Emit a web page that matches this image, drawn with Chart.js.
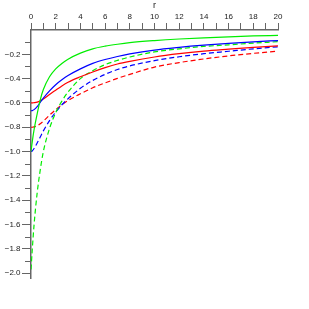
<!DOCTYPE html>
<html>
<head>
<meta charset="utf-8">
<script src="https://cdn.jsdelivr.net/npm/chart.js@4"></script>
<style>
  html, body { margin: 0; padding: 0; background: #fff; }
</style>
</head>
<body>
<canvas id="chart" width="309" height="309"></canvas>
<script>
const r = [0, 0.1, 0.25, 0.5, 0.75, 1, 1.5, 2, 2.5, 3, 4, 5, 6, 7, 8, 10, 12, 14, 16, 18, 20];

const greenSolid = [-1.0, -0.92, -0.82, -0.69, -0.575, -0.49, -0.385, -0.32, -0.275, -0.24, -0.19, -0.155, -0.133, -0.117, -0.104, -0.087, -0.074, -0.064, -0.056, -0.049, -0.044];
const blueSolid  = [-0.665, -0.663, -0.655, -0.63, -0.595, -0.56, -0.5, -0.45, -0.41, -0.375, -0.32, -0.275, -0.243, -0.218, -0.197, -0.165, -0.143, -0.125, -0.11, -0.097, -0.087];
const redSolid   = [-0.6, -0.6, -0.598, -0.593, -0.583, -0.568, -0.53, -0.495, -0.46, -0.43, -0.385, -0.345, -0.31, -0.28, -0.258, -0.222, -0.195, -0.174, -0.158, -0.143, -0.13];
const greenDash  = [-1.97, -1.81, -1.6, -1.34, -1.15, -1.0, -0.81, -0.68, -0.585, -0.51, -0.4, -0.335, -0.285, -0.25, -0.222, -0.18, -0.155, -0.135, -0.122, -0.108, -0.096];
const blueDash   = [-1.0, -0.995, -0.975, -0.93, -0.88, -0.83, -0.745, -0.675, -0.615, -0.565, -0.48, -0.415, -0.365, -0.325, -0.295, -0.252, -0.22, -0.195, -0.175, -0.155, -0.138];
const redDash    = [-0.8, -0.8, -0.797, -0.788, -0.772, -0.75, -0.7, -0.655, -0.615, -0.58, -0.525, -0.475, -0.435, -0.398, -0.365, -0.305, -0.268, -0.238, -0.213, -0.192, -0.174];

const xTicks  = [0, 1, 2, 3, 4, 5, 6, 7, 8, 9, 10, 11, 12, 13, 14, 15, 16, 17, 18, 19, 20];
const xLabels = [0, 2, 4, 6, 8, 10, 12, 14, 16, 18, 20];
const yMajor  = [-0.2, -0.4, -0.6, -0.8, -1.0, -1.2, -1.4, -1.6, -1.8, -2.0];
const yMinor  = [-0.1, -0.3, -0.5, -0.7, -0.9, -1.1, -1.3, -1.5, -1.7, -1.9];

const axisGrey = '#666';
const textCol = '#222';
const font8 = { family: 'Liberation Sans', size: 8 };

function series(vals, color, dashed) {
  return {
    data: r.map((x, i) => ({ x: x, y: vals[i] })),
    borderColor: color,
    borderWidth: 1.2,
    borderDash: dashed ? [5, 3] : [],
    pointRadius: 0,
    fill: false,
    cubicInterpolationMode: 'monotone'
  };
}

// short unlabelled ticks on the y axis
const minorTicks = {
  id: 'minorTicks',
  afterDraw(chart) {
    const y = chart.scales.y;
    const ctx = chart.ctx;
    ctx.save();
    ctx.strokeStyle = axisGrey;
    ctx.lineWidth = 1;
    ctx.beginPath();
    yMinor.forEach(v => {
      const py = Math.round(y.getPixelForValue(v)) + 0.5;
      ctx.moveTo(y.right - 6, py);
      ctx.lineTo(y.right, py);
    });
    ctx.stroke();
    ctx.restore();
  }
};

new Chart(document.getElementById('chart'), {
  type: 'line',
  data: {
    datasets: [
      series(greenSolid, '#00ee00', false),
      series(blueSolid, '#0000ff', false),
      series(redSolid, '#ff0000', false),
      series(greenDash, '#00ee00', true),
      series(blueDash, '#0000ff', true),
      series(redDash, '#ff0000', true)
    ]
  },
  options: {
    responsive: false,
    animation: false,
    layout: { padding: { left: 0, top: 0, right: 31, bottom: 31 } },
    plugins: { legend: { display: false }, tooltip: { enabled: false } },
    scales: {
      x: {
        type: 'linear',
        position: 'top',
        min: 0,
        max: 20,
        afterBuildTicks: s => { s.ticks = xTicks.map(v => ({ value: v })); },
        afterFit: s => { s.height = 30; },
        ticks: {
          callback: v => xLabels.includes(v) ? String(v) : '',
          font: font8,
          color: textCol,
          padding: 1,
          maxRotation: 0,
          autoSkip: false
        },
        grid: { drawOnChartArea: false, drawTicks: true, tickLength: 7, tickColor: axisGrey, tickWidth: 1 },
        border: { color: axisGrey, width: 1.5 },
        title: { display: true, text: 'r', font: { family: 'Liberation Sans', size: 9 }, color: textCol, padding: 0 }
      },
      y: {
        type: 'linear',
        min: -2.04,
        max: 0,
        afterBuildTicks: s => { s.ticks = yMajor.map(v => ({ value: v })); },
        afterFit: s => { s.width = 31; },
        ticks: {
          callback: v => '\u2212' + Math.abs(v).toFixed(1),
          font: font8,
          color: textCol,
          padding: 1.5,
          autoSkip: false
        },
        grid: { drawOnChartArea: false, drawTicks: true, tickLength: 9, tickColor: axisGrey, tickWidth: 1 },
        border: { color: axisGrey, width: 1.5 }
      }
    }
  },
  plugins: [minorTicks]
});
</script>
</body>
</html>
